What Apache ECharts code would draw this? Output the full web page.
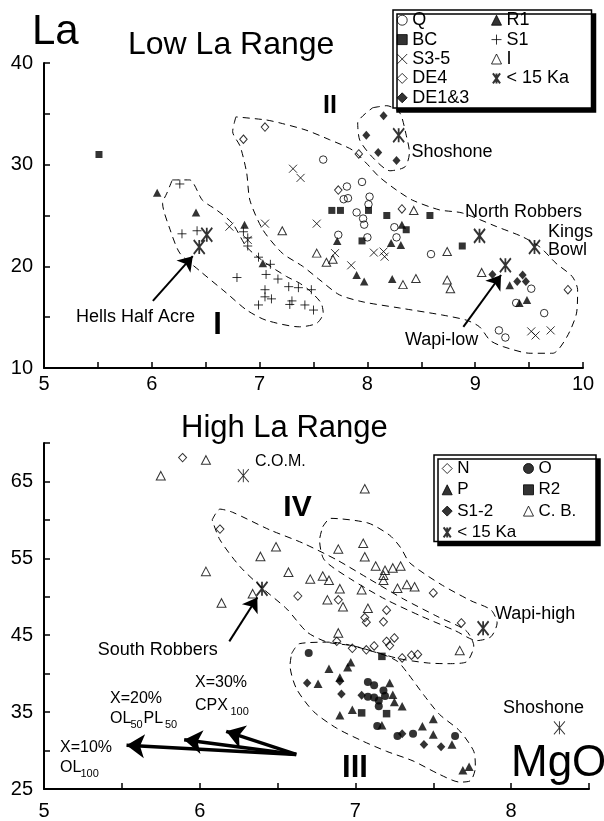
<!DOCTYPE html>
<html><head><meta charset="utf-8">
<script src="https://cdn.jsdelivr.net/npm/echarts@6/dist/echarts.min.js"></script>
<style>html,body{margin:0;padding:0;background:#fff}#c{width:604px;height:821px}</style>
</head><body><div id="c"></div>
<script>
// ---------- Low La Range (top) ----------
const topQ = [[7.59,30.5],[7.95,28.3],[7.81,27.85],[7.78,26.6],[7.82,26.7],[8.02,26.85],[8.01,26.1],[7.90,25.3],[7.96,24.7],[7.97,24.1],[7.73,23.1],[8.00,22.85],[8.25,23.85],[8.27,22.85],[8.59,21.2],[9.52,17.8],[9.38,16.4],[9.64,15.4],[9.22,13.7],[9.28,13.0]];
const topBC = [[5.51,31.0],[7.67,25.5],[7.75,25.5],[8.01,25.5],[8.18,25.0],[8.58,25.0],[7.95,22.5],[8.36,23.6],[8.88,22.0]];
const topS35 = [[7.31,29.6],[7.38,28.7],[6.72,23.9],[7.05,24.2],[7.53,24.2],[7.70,21.3],[7.85,20.1],[8.06,21.35],[8.15,21.45],[8.16,20.95],[6.89,22.6],[9.52,13.6],[9.56,13.2],[9.70,13.7]];
const topDE4 = [[6.85,32.5],[7.05,33.7],[7.92,31.05],[7.73,27.5],[8.32,25.65],[9.86,17.7]];
const topDE13 = [[8.15,34.8],[7.99,32.9],[8.10,31.2],[8.27,30.4],[9.16,19.2],[9.44,19.15],[9.39,18.5],[9.47,18.5]];
const topR1 = [[6.05,27.25],[6.41,25.3],[6.86,24.1],[7.03,20.3],[7.72,22.5],[8.32,24.1],[8.22,22.3],[8.31,22.1],[7.90,19.15],[7.97,18.5],[8.23,18.75],[9.32,18.15],[9.41,16.4],[9.48,16.7]];
const topS1 = [[6.26,28.1],[6.28,23.2],[6.42,23.5],[6.85,23.4],[6.89,22.8],[6.89,22.0],[6.99,20.9],[7.10,20.2],[6.79,18.9],[7.06,19.2],[7.17,18.75],[7.05,17.7],[7.05,17.0],[7.11,16.8],[6.99,16.2],[7.27,18.0],[7.36,17.9],[7.48,17.7],[7.30,16.6],[7.28,16.25],[7.42,16.2],[7.50,15.7]];
const topI = [[7.21,23.5],[8.43,25.5],[7.53,21.3],[7.62,20.4],[7.68,20.7],[8.74,21.45],[8.33,18.2],[8.45,18.8],[8.74,18.65],[8.77,17.8],[9.06,19.4]];
const topKa = [[6.44,21.9],[6.51,23.1],[8.29,32.9],[9.04,23.0],[9.55,21.9],[9.28,20.1]];
const topHullI = [[6.19,28.5],[6.35,28.5],[6.47,26.5],[6.60,25.55],[6.75,24.2],[6.88,21.9],[7.06,20.3],[7.25,19.0],[7.37,18.35],[7.46,17.65],[7.57,16.4],[7.59,15.4],[7.53,14.4],[7.37,14.05],[7.06,14.7],[6.88,15.7],[6.69,17.4],[6.44,19.6],[6.26,21.3],[6.17,23.6],[6.10,26.2],[6.14,27.2],[6.19,28.5]];
const topHullII = [[6.78,34.7],[6.75,33.25],[6.82,31.8],[6.88,29.2],[6.91,26.5],[7.03,23.6],[7.21,21.3],[7.40,20.0],[7.56,18.65],[7.74,17.2],[7.96,16.5],[8.30,15.9],[8.70,15.2],[8.92,14.7],[9.04,14.05],[9.14,12.7],[9.26,12.1],[9.51,11.45],[9.72,11.45],[9.85,13.05],[9.94,15.4],[9.95,17.7],[9.90,19.0],[9.75,20.3],[9.60,21.9],[9.44,22.9],[9.20,23.9],[8.88,25.25],[8.67,25.55],[8.42,26.5],[8.27,27.5],[8.11,28.8],[7.99,30.15],[7.86,31.45],[7.65,32.45],[7.43,33.4],[7.19,34.1],[7.06,34.4],[6.78,34.7]];
const topHullSho = [[8.05,35.6],[8.18,35.8],[8.30,35.1],[8.36,32.9],[8.39,31.2],[8.35,29.8],[8.21,29.4],[8.05,30.7],[7.93,32.4],[7.91,34.1],[8.05,35.6]];
const topArrowHHA = [[6.01,16.6],[6.38,21.0]];
const topArrowWapi = [[8.89,14.05],[9.24,19.15]];

// ---------- High La Range (bottom) ----------
const botN = [[5.89,68.1],[6.13,58.8],[6.63,50.1],[7.50,50.5],[6.89,49.6],[7.20,48.25],[7.06,47.3],[7.07,46.7],[7.18,46.75],[7.68,46.6],[6.88,44.2],[6.98,43.3],[7.07,43.1],[7.12,43.6],[7.20,44.2],[7.25,44.65],[7.22,43.65],[7.30,42.05],[7.36,42.4],[7.40,42.5]];
const botO = [[6.70,42.7],[7.08,38.9],[7.12,38.5],[7.18,37.8],[7.08,37.0],[7.12,36.9],[7.19,37.1],[7.15,36.5],[7.15,35.75],[7.14,33.2],[7.27,31.9],[7.37,32.2],[7.64,31.9]];
const botP = [[6.83,40.65],[6.97,41.5],[6.95,40.85],[6.76,38.7],[6.90,39.5],[7.22,38.8],[7.24,37.25],[7.25,36.3],[7.30,35.75],[6.98,35.3],[6.90,34.6],[7.17,33.3],[7.43,33.15],[7.50,34.1],[7.50,32.1],[7.62,30.8],[7.69,27.45],[7.73,27.9]];
const botS12 = [[6.69,38.8],[6.90,39.0],[6.91,37.35],[7.04,37.2],[7.30,32.2],[7.44,30.8],[7.55,30.5]];
const botR2 = [[7.17,42.25],[7.04,34.9],[7.20,34.8]];
const botCB = [[5.75,65.75],[6.04,67.8],[7.06,64.05],[6.49,56.5],[6.39,55.25],[6.04,53.3],[6.57,53.2],[6.34,50.4],[6.14,49.2],[6.89,56.2],[7.05,56.95],[7.06,55.2],[6.71,52.3],[6.79,52.7],[6.83,52.15],[7.13,54.0],[7.19,53.45],[7.24,53.75],[7.29,54.0],[7.18,52.8],[7.18,52.15],[6.90,51.05],[7.04,50.9],[7.27,51.1],[7.33,51.6],[7.38,51.3],[6.82,49.6],[6.92,48.7],[7.08,48.5],[6.89,45.3],[7.67,43.0]];
const botKa = [[6.40,51.05],[7.82,45.9]];
const botRef = [[6.28,65.75],[8.31,32.95]];
const botHullIV = [[6.08,60.0],[6.13,61.4],[6.21,61.0],[6.45,58.7],[6.66,57.0],[6.88,54.8],[7.09,52.3],[7.31,49.7],[7.53,47.4],[7.71,45.6],[7.76,43.6],[7.71,41.5],[7.59,41.3],[7.46,41.4],[7.27,42.0],[6.99,43.6],[6.82,44.1],[6.69,45.4],[6.56,48.4],[6.41,51.0],[6.26,53.9],[6.13,57.4],[6.08,60.0]];
const botHullWapi = [[6.79,59.1],[6.84,60.2],[7.08,59.6],[7.22,58.0],[7.29,56.4],[7.35,54.4],[7.55,51.6],[7.74,49.5],[7.87,48.3],[7.91,46.6],[7.87,44.8],[7.78,44.3],[7.64,45.6],[7.42,47.5],[7.19,49.7],[6.97,52.3],[6.80,54.8],[6.77,57.4],[6.79,59.1]];
const botHullIII = [[6.59,42.6],[6.64,43.9],[6.84,44.1],[7.16,42.6],[7.27,41.6],[7.33,40.2],[7.44,37.2],[7.54,34.7],[7.67,32.55],[7.76,29.9],[7.77,27.8],[7.74,26.1],[7.67,25.9],[7.54,26.9],[7.37,28.65],[7.20,29.9],[7.05,31.2],[6.88,32.9],[6.73,35.1],[6.62,38.1],[6.58,41.1],[6.59,42.6]];
const botArrowSR = [[6.19,44.2],[6.37,49.9]];
const vectorOrigin = [6.62,29.5];
const vectorTips = [[5.53,30.7],[5.90,31.4],[6.17,32.5]];

const FONT = 'Arial, "Liberation Sans", sans-serif';
const CLEAR = 'rgba(0,0,0,0)';
const P_X = 'path://M0,0L10,10M10,0L0,10';
const P_PLUS = 'path://M5,0L5,10M0,5L10,5';
const P_AST = 'path://M0,0L10,14M10,0L0,14M5,0L5,14';

function sc(name, data, g, symbol, size, open, bw) {
  return {
    type: 'scatter', name: name, data: data, xAxisIndex: g, yAxisIndex: g,
    symbol: symbol, symbolSize: size, silent: true,
    itemStyle: open ? {color: CLEAR, borderColor: '#000', borderWidth: bw || 1}
                    : {color: '#000', borderColor: '#000', borderWidth: 0},
    z: 3
  };
}
function hull(data, g) {
  return {type: 'line', data: data, xAxisIndex: g, yAxisIndex: g, symbol: 'none', smooth: 0.25,
    silent: true, lineStyle: {color: '#000', width: 1, type: [7, 5]}, z: 2};
}
function arrows(list, g, width, size) {
  return {type: 'lines', coordinateSystem: 'cartesian2d', xAxisIndex: g, yAxisIndex: g,
    symbol: ['none', 'arrow'], symbolSize: size, silent: true,
    lineStyle: {color: '#000', width: width, opacity: 1},
    data: list.map(c => ({coords: c})), z: 4};
}

function xAxis(g, min, max) {
  return {gridIndex: g, type: 'value', min: min, max: max, interval: 0.5,
    axisLine: {show: true, onZero: false, lineStyle: {color: '#000', width: 2}},
    axisTick: {show: true, inside: true, length: 6, interval: 0, lineStyle: {color: '#000', width: 1.5}},
    axisLabel: {interval: 0, color: '#000', fontSize: 20, fontFamily: FONT, margin: g === 0 ? 6 : 12,
      formatter: v => Number.isInteger(v) ? String(v) : ''},
    splitLine: {show: false}};
}
function yAxis(g, min, max, base) {
  return {gridIndex: g, type: 'value', min: min, max: max, interval: 5,
    axisLine: {show: true, onZero: false, lineStyle: {color: '#000', width: 2}},
    axisTick: {show: true, inside: true, length: 6, interval: 0, lineStyle: {color: '#000', width: 1.5}},
    axisLabel: {interval: 0, color: '#000', fontSize: 20, fontFamily: FONT, margin: 11,
      formatter: v => ((v - base) % 10 === 0 ? String(v) : '')},
    splitLine: {show: false}};
}

function t(text, x, y, size, extra) {
  return Object.assign({type: 'text', z: 10, silent: true,
    style: Object.assign({text: text, x: x, y: y, fill: '#000', font: size + 'px ' + FONT,
      align: 'left', verticalAlign: 'middle'}, extra || {})});
}
function tb(text, x, y, size) {
  return t(text, x, y, size, {font: 'bold ' + size + 'px ' + FONT, align: 'center'});
}

const legendBase = {orient: 'vertical', itemWidth: 10, itemHeight: 10, padding: 0, selectedMode: false, z: 6,
  itemStyle: {borderWidth: 1}};

const option = {
  animation: false,
  backgroundColor: '#fff',
  grid: [
    {left: 44, top: 63, width: 539, height: 305, containLabel: false},
    {left: 44, top: 443, width: 545, height: 349, containLabel: false}
  ],
  xAxis: [xAxis(0, 5, 10), xAxis(1, 5, 8.5)],
  yAxis: [yAxis(0, 10, 40, 10), yAxis(1, 25, 70, 25)],
  legend: [
    Object.assign({}, legendBase, {left: 396.7, top: 10.5, itemGap: 0,
      textStyle: {fontSize: 18, lineHeight: 19.4, fontFamily: FONT, color: '#000'},
      data: ['Q', 'BC', 'S3-5', 'DE4', 'DE1&3']}),
    Object.assign({}, legendBase, {left: 491, top: 10.5, itemGap: 0,
      textStyle: {fontSize: 18, lineHeight: 19.4, fontFamily: FONT, color: '#000'},
      data: ['R1', 'S1', 'I', {name: '< 15 Ka', itemStyle: {borderWidth: 2}}]}),
    Object.assign({}, legendBase, {left: 441.7, top: 458.5, itemGap: 1.3,
      textStyle: {fontSize: 17, lineHeight: 20, fontFamily: FONT, color: '#000'},
      data: ['N', 'P', 'S1-2', {name: '< 15 Ka', itemStyle: {borderWidth: 2}}]}),
    Object.assign({}, legendBase, {left: 523, top: 458.5, itemGap: 1.3,
      textStyle: {fontSize: 17, lineHeight: 20, fontFamily: FONT, color: '#000'},
      data: ['O', 'R2', 'C. B.']})
  ],
  graphic: [
    {type: 'rect', z: 1, silent: true, shape: {x: 393, y: 10, width: 198.5, height: 98},
      style: {fill: '#fff', stroke: '#000', lineWidth: 1.5, shadowColor: '#000', shadowOffsetX: 4, shadowOffsetY: 4, shadowBlur: 0}},
    {type: 'rect', z: 1, silent: true, shape: {x: 434, y: 455, width: 162, height: 86.5},
      style: {fill: '#fff', stroke: '#000', lineWidth: 1.5, shadowColor: '#000', shadowOffsetX: 4, shadowOffsetY: 4, shadowBlur: 0}},
    t('La', 32, 32, 42),
    t('Low La Range', 128, 45, 32),
    t('High La Range', 181, 428, 31),
    t('MgO', 511, 764, 44),
    tb('II', 330, 106, 25),
    tb('I', 217.5, 325, 31),
    tb('IV', 297.5, 508, 30),
    tb('III', 355, 768.5, 31),
    t('Hells Half Acre', 76, 316.7, 18),
    t('Shoshone', 411.5, 151.7, 18),
    t('North Robbers', 465, 211.7, 18),
    t('Kings', 548, 231.7, 18),
    t('Bowl', 548, 250.5, 18),
    t('Wapi-low', 405, 340, 18),
    t('C.O.M.', 255, 461.7, 16),
    t('South Robbers', 97.7, 650, 18),
    t('Wapi-high', 495, 614, 18),
    t('Shoshone', 503, 708, 18),
    t('X=10%', 60, 747.7, 16),
    t('OL', 60, 767.5, 16),
    t('100', 80.5, 773.5, 11),
    t('X=20%', 110, 698.3, 16),
    t('OL', 110, 718.3, 16),
    t('50', 130.5, 724.5, 11),
    t('PL', 143.5, 718.3, 16),
    t('50', 165, 724.5, 11),
    t('X=30%', 195, 682.7, 16),
    t('CPX', 195, 706, 16),
    t('100', 230.5, 712, 11)
  ],
  series: [
    hull(topHullI, 0), hull(topHullII, 0), hull(topHullSho, 0),
    hull(botHullIV, 1), hull(botHullWapi, 1), hull(botHullIII, 1),
    sc('Q', topQ, 0, 'circle', 7.5, true),
    sc('BC', topBC, 0, 'rect', 7, false),
    sc('S3-5', topS35, 0, P_X, 8, true),
    sc('DE4', topDE4, 0, 'diamond', [7.5, 8.5], true),
    sc('DE1&3', topDE13, 0, 'diamond', [8, 9], false),
    sc('R1', topR1, 0, 'triangle', [8.5, 8], false),
    sc('S1', topS1, 0, P_PLUS, 9, true),
    sc('I', topI, 0, 'triangle', [8.5, 8], true),
    sc('< 15 Ka', topKa, 0, P_AST, [11, 14], true, 2),
    sc('N', botN, 1, 'diamond', [8, 8.5], true),
    sc('O', botO, 1, 'circle', 8, false),
    sc('P', botP, 1, 'triangle', [9, 8.5], false),
    sc('S1-2', botS12, 1, 'diamond', [8.5, 9], false),
    sc('R2', botR2, 1, 'rect', 7.5, false),
    sc('C. B.', botCB, 1, 'triangle', [9, 8.5], true),
    sc('< 15 Ka', botKa, 1, P_AST, [11, 14], true, 2),
    sc('ref', botRef, 1, P_AST, [11, 13], true, 1),
    arrows([topArrowHHA, topArrowWapi], 0, 2, 14),
    arrows([botArrowSR], 1, 2, 14),
    arrows(vectorTips.map(tip => [vectorOrigin, tip]), 1, 3.5, 18)
  ]
};

const chart = echarts.init(document.getElementById('c'), null, {renderer: 'canvas'});
chart.setOption(option);
</script></body></html>
